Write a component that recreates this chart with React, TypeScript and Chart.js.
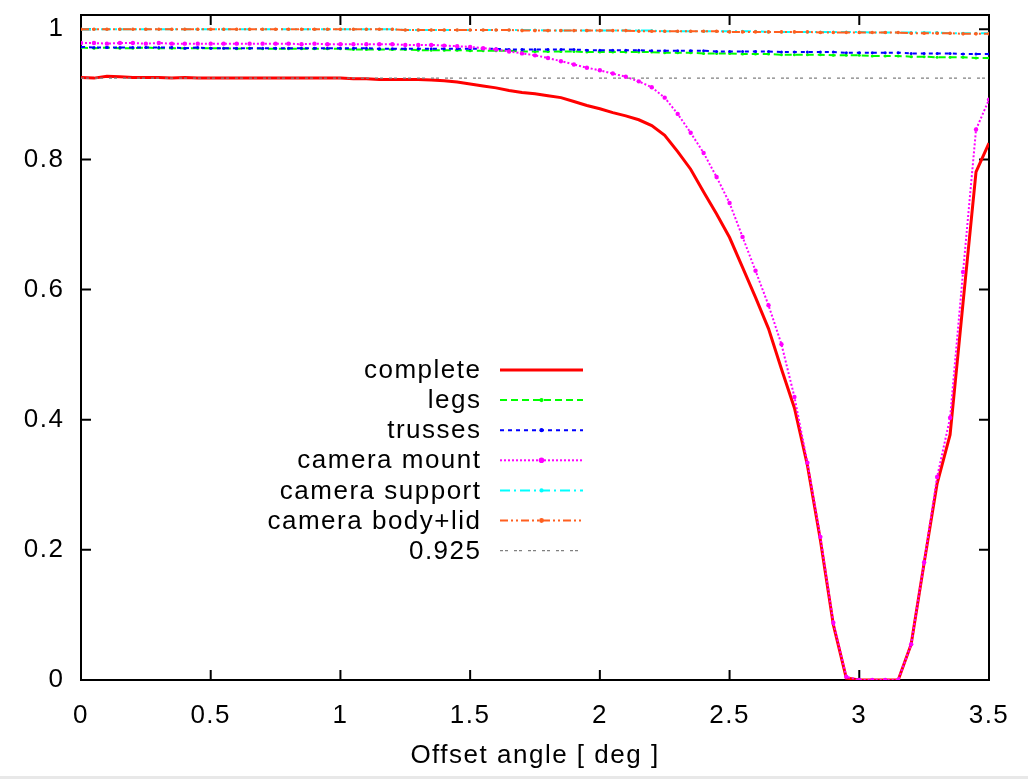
import React, { useEffect, useRef } from 'react';
import { Chart, registerables } from 'chart.js';

Chart.register(...registerables);

// ---------- data ----------
const angles = [
  0, 0.05, 0.1, 0.15, 0.2, 0.25, 0.3, 0.35, 0.4, 0.45,
  0.5, 0.55, 0.6, 0.65, 0.7, 0.75, 0.8, 0.85, 0.9, 0.95,
  1, 1.05, 1.1, 1.15, 1.2, 1.25, 1.3, 1.35, 1.4, 1.45,
  1.5, 1.55, 1.6, 1.65, 1.7, 1.75, 1.8, 1.85, 1.9, 1.95,
  2, 2.05, 2.1, 2.15, 2.2, 2.25, 2.3, 2.35, 2.4, 2.45,
  2.5, 2.55, 2.6, 2.65, 2.7, 2.75, 2.8, 2.85, 2.9, 2.95,
  3, 3.05, 3.1, 3.15, 3.2, 3.25, 3.3, 3.35, 3.4, 3.45,
  3.5,
];

const complete = [
  0.926, 0.925, 0.928, 0.927, 0.926, 0.926, 0.926, 0.925, 0.926, 0.925,
  0.925, 0.925, 0.925, 0.925, 0.925, 0.925, 0.925, 0.925, 0.925, 0.925,
  0.925, 0.924, 0.924, 0.923, 0.923, 0.923, 0.923, 0.922, 0.921, 0.919,
  0.916, 0.913, 0.910, 0.906, 0.903, 0.901, 0.898, 0.895, 0.889, 0.883,
  0.878, 0.872, 0.867, 0.861, 0.852, 0.837, 0.812, 0.785, 0.750, 0.716,
  0.680, 0.634, 0.588, 0.540, 0.478, 0.418, 0.330, 0.215, 0.085, 0.003,
  0, 0, 0, 0, 0.055, 0.180, 0.302, 0.377, 0.580, 0.781,
  0.825,
];

const legs = [
  0.972, 0.971, 0.972, 0.971, 0.971, 0.972, 0.971, 0.971, 0.971, 0.971,
  0.971, 0.971, 0.970, 0.971, 0.970, 0.970, 0.970, 0.970, 0.970, 0.970,
  0.970, 0.969, 0.969, 0.969, 0.969, 0.969, 0.968, 0.968, 0.968, 0.968,
  0.967, 0.967, 0.967, 0.967, 0.966, 0.966, 0.966, 0.966, 0.966, 0.965,
  0.965, 0.965, 0.965, 0.965, 0.965, 0.964, 0.964, 0.964, 0.963, 0.963,
  0.963, 0.962, 0.962, 0.962, 0.961, 0.961, 0.961, 0.961, 0.960, 0.960,
  0.960, 0.959, 0.959, 0.959, 0.958, 0.958, 0.957, 0.957, 0.957, 0.956,
  0.956,
];

const trusses = [
  0.973, 0.972, 0.972, 0.972, 0.972, 0.972, 0.972, 0.972, 0.971, 0.972,
  0.971, 0.971, 0.971, 0.971, 0.971, 0.971, 0.971, 0.971, 0.971, 0.971,
  0.971, 0.971, 0.971, 0.970, 0.970, 0.970, 0.970, 0.970, 0.970, 0.970,
  0.970, 0.970, 0.970, 0.969, 0.969, 0.969, 0.969, 0.969, 0.969, 0.968,
  0.968, 0.968, 0.968, 0.968, 0.967, 0.967, 0.967, 0.967, 0.967, 0.966,
  0.966, 0.966, 0.966, 0.966, 0.965, 0.965, 0.965, 0.965, 0.965, 0.964,
  0.964, 0.964, 0.964, 0.964, 0.963, 0.963, 0.963, 0.963, 0.962, 0.962,
  0.962,
];

const cameraMount = [
  0.979, 0.979, 0.978, 0.979, 0.979, 0.978, 0.979, 0.978, 0.978, 0.978,
  0.978, 0.978, 0.978, 0.978, 0.978, 0.978, 0.978, 0.977, 0.978, 0.977,
  0.977, 0.977, 0.977, 0.977, 0.977, 0.976, 0.976, 0.976, 0.975, 0.974,
  0.973, 0.971, 0.969, 0.966, 0.963, 0.960, 0.956, 0.951, 0.946, 0.941,
  0.937, 0.932, 0.927, 0.920, 0.911, 0.895, 0.870, 0.841, 0.810, 0.773,
  0.733, 0.681, 0.629, 0.576, 0.516, 0.435, 0.334, 0.220, 0.088, 0.005,
  0, 0, 0, 0, 0.055, 0.181, 0.312, 0.403, 0.627, 0.846,
  0.892,
];

const cameraSupport = [
  1.000, 1.000, 1.000, 1.000, 1.000, 1.000, 1.000, 1.000, 1.000, 1.000,
  1.000, 1.000, 1.000, 1.000, 1.000, 1.000, 1.000, 1.000, 1.000, 1.000,
  1.000, 1.000, 1.000, 1.000, 1.000, 0.999, 0.999, 0.999, 0.999, 0.999,
  0.999, 0.999, 0.999, 0.999, 0.999, 0.999, 0.998, 0.998, 0.998, 0.998,
  0.998, 0.998, 0.998, 0.998, 0.998, 0.997, 0.997, 0.997, 0.997, 0.997,
  0.997, 0.997, 0.997, 0.996, 0.996, 0.996, 0.996, 0.996, 0.996, 0.996,
  0.996, 0.995, 0.995, 0.995, 0.995, 0.995, 0.995, 0.994, 0.994, 0.994,
  0.994,
];

const cameraBodyLid = [
  1.000, 1.000, 1.000, 1.000, 1.000, 1.000, 1.000, 1.000, 1.000, 1.000,
  1.000, 1.000, 1.000, 1.000, 1.000, 1.000, 1.000, 1.000, 1.000, 1.000,
  1.000, 1.000, 1.000, 1.000, 1.000, 0.999, 0.999, 0.999, 0.999, 0.999,
  0.999, 0.999, 0.999, 0.999, 0.998, 0.998, 0.998, 0.998, 0.998, 0.998,
  0.998, 0.998, 0.998, 0.997, 0.997, 0.997, 0.997, 0.997, 0.997, 0.997,
  0.996, 0.996, 0.996, 0.996, 0.996, 0.996, 0.996, 0.995, 0.995, 0.995,
  0.995, 0.995, 0.995, 0.995, 0.994, 0.994, 0.994, 0.994, 0.993, 0.993,
  0.993,
];

const thresholdValue = 0.925;
const thresholdRange = [0, 3.5];

const seriesNames = [
  'complete',
  'legs',
  'trusses',
  'camera mount',
  'camera support',
  'camera body+lid',
  '0.925',
];

const xTicks = [0, 0.5, 1, 1.5, 2, 2.5, 3, 3.5];
const xTickLabels = ['0', '0.5', '1', '1.5', '2', '2.5', '3', '3.5'];
const yTicks = [0, 0.2, 0.4, 0.6, 0.8, 1];
const yTickLabels = ['0', '0.2', '0.4', '0.6', '0.8', '1'];
const xTitle = 'Offset angle [ deg ]';
const xRange = [0, 3.5];
const yRange = [0, 1.022];

// ---------- styles ----------
const FONT = '"Liberation Sans", Arial, sans-serif';
const FONT_SIZE = 26;
const LETTER_SPACING = '1.5px';

const seriesStyles = [
  { color: '#ff0000', width: 3, dash: [] as number[], radius: 0 },
  { color: '#00ff00', width: 2, dash: [7, 4], radius: 1.5 },
  { color: '#0000ff', width: 2, dash: [4, 4], radius: 1.5 },
  { color: '#ff00ff', width: 2, dash: [2, 2], radius: 2.2 },
  { color: '#00ffff', width: 2, dash: [10, 4, 2, 4], radius: 1.5 },
  { color: '#ff5f1f', width: 2, dash: [8, 3, 2, 3, 2, 3], radius: 1.8 },
  { color: '#808080', width: 1.2, dash: [3, 2, 3, 6], radius: 0 },
];

const seriesValues = [complete, legs, trusses, cameraMount, cameraSupport, cameraBodyLid];

function buildDatasets() {
  const sets: any[] = seriesValues.map((vals, i) => ({
    label: seriesNames[i],
    data: angles.map((a, j) => ({ x: a, y: vals[j] })),
  }));
  sets.push({
    label: seriesNames[6],
    data: thresholdRange.map((a) => ({ x: a, y: thresholdValue })),
  });
  return sets.map((ds, i) => {
    const st = seriesStyles[i];
    return {
      ...ds,
      borderColor: st.color,
      backgroundColor: st.color,
      borderWidth: st.width,
      borderDash: st.dash,
      pointRadius: st.radius,
      pointBorderWidth: 0,
      pointStyle: 'circle',
      pointBackgroundColor: st.color,
      pointHoverRadius: st.radius,
      tension: 0,
      fill: false,
      order: 10 - i,
    };
  });
}

const spacingPlugin = {
  id: 'letterSpacing',
  beforeDraw(chart: any) {
    chart.ctx.letterSpacing = LETTER_SPACING;
  },
};

const framePlugin = {
  id: 'frameTicks',
  beforeDatasetsDraw(chart: any) {
    const { ctx, chartArea, scales } = chart;
    const { left, right, top, bottom } = chartArea;
    ctx.save();
    ctx.strokeStyle = '#000';
    ctx.lineWidth = 2;
    ctx.setLineDash([]);
    ctx.strokeRect(left, top, right - left, bottom - top);
    ctx.beginPath();
    const tl = 10;
    scales.x.ticks.forEach((t: any) => {
      const px = scales.x.getPixelForValue(t.value);
      ctx.moveTo(px, bottom);
      ctx.lineTo(px, bottom - tl);
      ctx.moveTo(px, top);
      ctx.lineTo(px, top + tl);
    });
    scales.y.ticks.forEach((t: any) => {
      const py = scales.y.getPixelForValue(t.value);
      ctx.moveTo(left, py);
      ctx.lineTo(left + tl, py);
      ctx.moveTo(right, py);
      ctx.lineTo(right - tl, py);
    });
    ctx.stroke();
    ctx.restore();
  },
};

const legendPlugin = {
  id: 'gnuLegend',
  afterDatasetsDraw(chart: any) {
    const { ctx } = chart;
    const rowTop = 370;
    const rowStep = 30.1;
    const textRight = 481.5;
    const lineStart = 500;
    const lineEnd = 583;
    ctx.save();
    ctx.font = `${FONT_SIZE}px ${FONT}`;
    ctx.letterSpacing = LETTER_SPACING;
    ctx.textAlign = 'right';
    ctx.textBaseline = 'middle';
    chart.data.datasets.forEach((ds: any, i: number) => {
      const y = rowTop + i * rowStep;
      ctx.fillStyle = '#000';
      ctx.fillText(ds.label, textRight, y + 1);
      ctx.strokeStyle = ds.borderColor;
      ctx.lineWidth = ds.borderWidth;
      ctx.setLineDash(ds.borderDash || []);
      ctx.beginPath();
      ctx.moveTo(lineStart, y);
      ctx.lineTo(lineEnd, y);
      ctx.stroke();
      if (ds.pointRadius > 0) {
        ctx.setLineDash([]);
        ctx.fillStyle = ds.borderColor;
        ctx.beginPath();
        ctx.arc((lineStart + lineEnd) / 2, y, ds.pointRadius + 0.6, 0, Math.PI * 2);
        ctx.fill();
      }
    });
    ctx.restore();
  },
};

export default function App() {
  const canvasRef = useRef<HTMLCanvasElement>(null);

  useEffect(() => {
    if (!canvasRef.current) return;
    const chart = new Chart(canvasRef.current, {
      type: 'line',
      data: { datasets: buildDatasets() },
      options: {
        animation: false,
        responsive: false,
        devicePixelRatio: 1,
        events: [],
        layout: { padding: { top: 15, right: 39, left: 0, bottom: 0 } },
        plugins: {
          legend: { display: false },
          tooltip: { enabled: false },
          title: { display: false },
        },
        scales: {
          x: {
            type: 'linear',
            min: xRange[0],
            max: xRange[1],
            bounds: 'data',
            grid: { display: false, drawTicks: false },
            border: { display: false },
            afterBuildTicks: (scale: any) => {
              scale.ticks = xTicks.map((v) => ({ value: v }));
              scale.min = xRange[0];
              scale.max = xRange[1];
            },
            afterFit: (scale: any) => {
              scale.height = 99;
              scale.paddingLeft = 0;
              scale.paddingRight = 0;
            },
            ticks: {
              autoSkip: false,
              maxRotation: 0,
              padding: 20,
              color: '#000',
              font: { family: FONT, size: FONT_SIZE },
              callback: (_v: any, idx: number) => xTickLabels[idx],
            },
            title: {
              display: true,
              text: xTitle,
              color: '#000',
              font: { family: FONT, size: FONT_SIZE },
              padding: { top: 0, bottom: 8 },
            },
          },
          y: {
            type: 'linear',
            min: yRange[0],
            max: yRange[1],
            bounds: 'data',
            grid: { display: false, drawTicks: false },
            border: { display: false },
            afterBuildTicks: (scale: any) => {
              scale.ticks = yTicks.map((v) => ({ value: v }));
              scale.min = yRange[0];
              scale.max = yRange[1];
            },
            afterFit: (scale: any) => {
              scale.width = 81;
              scale.paddingTop = 0;
              scale.paddingBottom = 0;
            },
            ticks: {
              autoSkip: false,
              padding: 16.5,
              color: '#000',
              font: { family: FONT, size: FONT_SIZE },
              callback: (_v: any, idx: number) => yTickLabels[idx],
            },
          },
        },
      },
      plugins: [spacingPlugin, framePlugin, legendPlugin],
    } as any);
    return () => chart.destroy();
  }, []);

  return (
    <div style={{ position: 'absolute', left: 0, top: 0, width: 1028, height: 779, background: '#fff', overflow: 'hidden' }}>
      <canvas ref={canvasRef} width={1028} height={779} style={{ display: 'block', width: 1028, height: 779 }} />
      <div style={{ position: 'absolute', left: 0, top: 776, width: 1028, height: 3, background: '#e8e8e8' }} />
    </div>
  );
}
